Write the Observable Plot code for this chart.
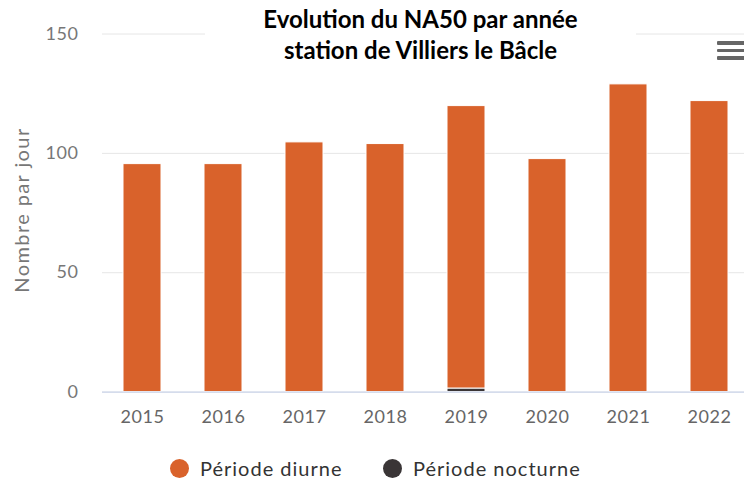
<!DOCTYPE html>
<html>
<head>
<meta charset="utf-8">
<script src="https://cdn.jsdelivr.net/npm/d3@7"></script>
<script src="https://cdn.jsdelivr.net/npm/@observablehq/plot@0.6"></script>
<style>
  html, body { margin: 0; padding: 0; background: #fff; }
  #wrap { position: relative; width: 744px; height: 483px; overflow: hidden; font-family: Lato, "Open Sans", sans-serif; }
  #title { position: absolute; left: 205px; width: 431px; top: 3px; background: #fff; text-align: center;
           font-family: Lato, sans-serif; font-weight: 700; font-size: 24px; line-height: 31px; color: #000; }
  #menu { position: absolute; left: 717px; top: 41px; width: 30px; }
  #menu div { height: 3.5px; background: #666; margin-bottom: 4px; border-radius: 1px; }
  #legend { position: absolute; left: 0; top: 452px; width: 744px; height: 31px; font-size: 20px; letter-spacing: 1px; color: #333; }
  .item { position: absolute; top: 4px; display: flex; align-items: center; }
  .dot { width: 19px; height: 19px; border-radius: 50%; margin-right: 11px; }
</style>
</head>
<body>
<div id="wrap">
  <div id="chart"></div>
  <div id="title">Evolution du NA50 par année<br>station de Villiers le Bâcle</div>
  <div id="menu"><div></div><div></div><div></div></div>
  <div id="legend"></div>
</div>
<script>
const years = ["2015", "2016", "2017", "2018", "2019", "2020", "2021", "2022"];
const diurne = [95.5, 95.5, 104.6, 103.9, 118.3, 97.6, 128.9, 121.9];
const nocturne = [0, 0, 0, 0, 1.5, 0, 0, 0];
const seriesNames = ["Période nocturne", "Période diurne"];
const seriesColors = ["#3a3536", "#d9622b"];
const yTicks = [0, 50, 100, 150];
const yLabel = "Nombre par jour";

// nocturne first so that it sits at the bottom of the stack
const rows = [
  ...years.map((y, i) => ({year: y, serie: seriesNames[0], value: nocturne[i]})),
  ...years.map((y, i) => ({year: y, serie: seriesNames[1], value: diurne[i]}))
];

const chart = Plot.plot({
  width: 744,
  height: 440,
  marginTop: 33.5,
  marginBottom: 48.4,
  marginLeft: 102,
  marginRight: 0,
  style: {fontFamily: "Lato, sans-serif", fontSize: "18px", color: "#666", background: "#fff"},
  x: {domain: years, range: [101.5, 749.5], paddingInner: 0.53, paddingOuter: 0.265, align: 0.5},
  y: {domain: [0, 150]},
  color: {domain: seriesNames, range: seriesColors},
  marks: [
    Plot.gridY(yTicks, {stroke: "#e6e6e6", strokeOpacity: 1, strokeWidth: 1}),
    Plot.barY(rows, {x: "year", y: "value", fill: "serie", stroke: "white", strokeWidth: 1}),
    Plot.ruleY([0], {stroke: "#ccd6eb", strokeWidth: 1.2}),
    Plot.axisY(yTicks, {tickSize: 0, tickPadding: 24, label: null, fill: "#777", fontSize: 18}),
    Plot.axisX({tickSize: 0, tickPadding: 18, label: null, fill: "#666", fontSize: 18}),
    Plot.text([yLabel], {frameAnchor: "left", textAnchor: "middle", rotate: -90, dx: -80, dy: -3, fontSize: 20, fill: "#777", text: d => d})
  ]
});
d3.select(chart).selectAll("text").each(function() {
  const t = this.textContent;
  if (t === yLabel) d3.select(this).style("letter-spacing", "1.4px");
  else if (/^\d+$/.test(t)) d3.select(this).style("letter-spacing", "0.6px");
});
document.getElementById("chart").appendChild(chart);

const legend = document.getElementById("legend");
const legendX = [170, 383];
[1, 0].forEach((k, j) => {
  const item = document.createElement("div");
  item.className = "item";
  item.style.left = legendX[j] + "px";
  item.innerHTML = `<span class="dot" style="background:${seriesColors[k]}"></span><span>${seriesNames[k]}</span>`;
  legend.appendChild(item);
});
</script>
</body>
</html>
